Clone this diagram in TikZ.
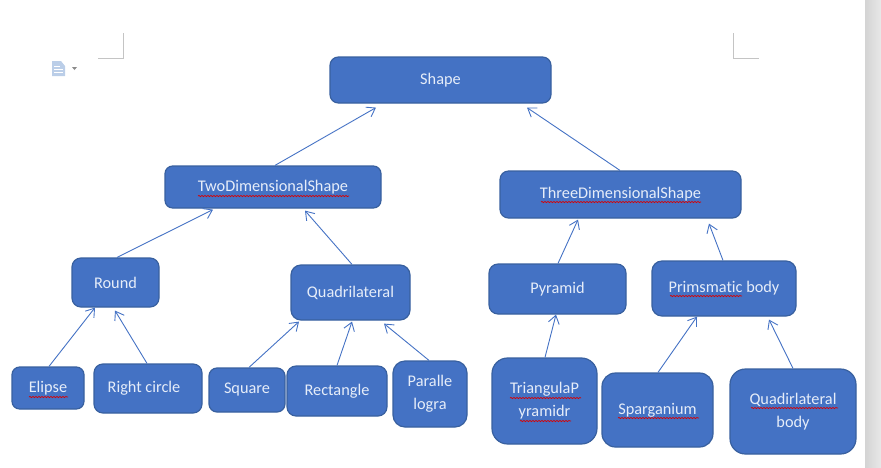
\documentclass[tikz,border=0pt]{standalone}
\usepackage{fontspec}
\setmainfont[Ligatures=NoCommon]{Carlito}
\usetikzlibrary{arrows.meta}
\usetikzlibrary{decorations.pathmorphing}
\definecolor{boxFill}{HTML}{4472C4}
\definecolor{boxLine}{HTML}{38609F}
\definecolor{boxText}{HTML}{E6EDF9}
\definecolor{markGray}{HTML}{C4C4C4}
\definecolor{iconBlue}{HTML}{BBCEE8}

\begin{document}
\begin{tikzpicture}
[x=1pt,y=-1pt,%
  lineDecorate/.style={draw=boxFill,line width=0.9pt,-{Straight Barb[length=8pt,width=11pt]}},%
  nodeDecorate/.style={shape=rectangle,draw=boxLine,fill=boxFill,line width=1.2pt,inner sep=0pt,align=center,text=boxText},%
  spellDecorate/.style={draw=red!85!black,line width=0.7pt,decorate,decoration={snake,amplitude=0.6pt,segment length=3pt}},%
  markDecorate/.style={draw=markGray,line width=1pt}]
\fontsize{16.3}{23}\selectfont
\useasboundingbox (0,0) rectangle (881,467);
%% page edge
\shade[left color=black!17,right color=black!9] (865,0) rectangle (881,467);
%% page corners and the document icon
\draw[markDecorate] (98,58) -- (123.5,58) -- (123.5,33);
\draw[markDecorate] (733.5,33) -- (733.5,58) -- (759,58);
\fill[iconBlue] (52,61) -- (61,61) -- (65,66) -- (65,76) -- (52,76) -- cycle;
\draw[white,line width=0.7pt] (54,66) -- (60,66) (54,69) -- (63,69) (54,72) -- (63,72);
\fill[black!45] (72,67) -- (77,67) -- (74.5,70) -- cycle;
%% nodes
\foreach \nodename/\x/\y/\w/\h/\txt in {
  shape/440.5/80/221/46/{Shape},
  two/273/187/216/42/{TwoDimensionalShape},
  three/620.5/194.5/241/47/{ThreeDimensionalShape},
  round/115.5/282.5/87/49/{Round},
  quad/350.5/292.5/119/55/{Quadrilateral},
  pyramid/557.5/289/137/50/{Pyramid},
  prism/724/288.5/144/55/{Primsmatic body},
  elipse/48/388/72/42/{Elipse},
  circ/148/388.5/108/49/{Right circle\hspace{8pt}},
  square/247/390/76/44/{Square},
  rect/337/391/100/50/{Rectangle},
  para/430/394/74/66/{Paralle\\logra},
  tria/544.5/401/105/86/{TriangulaP\\yramidr},
  sparg/657.5/410/111/74/{Sparganium},
  quadir/793/411.5/126/85/{Quadirlateral\\body}}
{
  \node[nodeDecorate,minimum width=\w pt,minimum height=\h pt,rounded corners={\h pt/5.5}] (\nodename) at (\x,\y) {\txt};
}
%% connect children to parents
\foreach \child/\cx/\parent/\px/\py in {
  two/2/shape/-64.5/4,
  three/-0.5/shape/86.5/4,
  round/1.5/two/-60/1,
  quad/1.5/two/32/2,
  pyramid/0.5/three/-42.5/1,
  prism/-1/three/88.5/5,
  elipse/1/round/-20.5/0,
  circ/-1/round/-0.5/3,
  square/2/quad/-51.5/1,
  rect/0/quad/1.5/1,
  para/-1/quad/33.5/3,
  tria/0.5/pyramid/-1.5/0,
  sparg/0.5/prism/-27/0,
  quadir/0/prism/45/3}
{
  \draw[lineDecorate] ([xshift=\cx pt]\child.north) -- ([xshift=\px pt,yshift=-\py pt]\parent.south);
}
%% spelling marks
\foreach \xa/\xb/\y in {
  198/349/196, 541/701/202, 670/742/296, 29/68/397,
  510/581/398, 520/571/421, 618/699/418, 751/838/408}
{
  \draw[spellDecorate] (\xa,\y) -- (\xb,\y);
}
\end{tikzpicture}
\end{document}
